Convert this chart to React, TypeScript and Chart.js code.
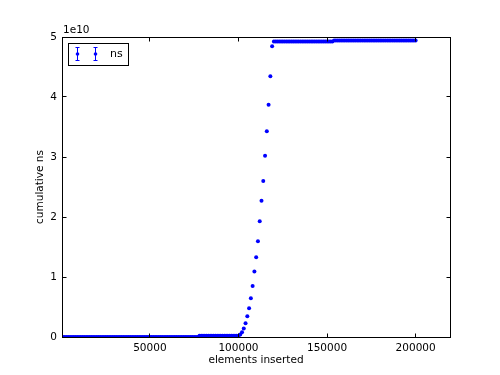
import React, { useEffect, useRef } from "react";
import { Chart, registerables } from "chart.js";

Chart.register(...registerables);

const SERIES_LABEL = "ns";
const X_TITLE = "elements inserted";
const Y_TITLE = "cumulative ns";
const Y_OFFSET_LABEL = "1e10";
const X_TICKS = [50000, 100000, 150000, 200000];
const Y_TICKS = [0, 1e10, 2e10, 3e10, 4e10, 5e10];

const elementsInserted = [
  1000, 2000, 3000, 4000, 5000, 6000, 7000, 8000, 9000, 10000,
  11000, 12000, 13000, 14000, 15000, 16000, 17000, 18000, 19000, 20000,
  21000, 22000, 23000, 24000, 25000, 26000, 27000, 28000, 29000, 30000,
  31000, 32000, 33000, 34000, 35000, 36000, 37000, 38000, 39000, 40000,
  41000, 42000, 43000, 44000, 45000, 46000, 47000, 48000, 49000, 50000,
  51000, 52000, 53000, 54000, 55000, 56000, 57000, 58000, 59000, 60000,
  61000, 62000, 63000, 64000, 65000, 66000, 67000, 68000, 69000, 70000,
  71000, 72000, 73000, 74000, 75000, 76000, 77000, 78000, 79000, 80000,
  81000, 82000, 83000, 84000, 85000, 86000, 87000, 88000, 89000, 90000,
  91000, 92000, 93000, 94000, 95000, 96000, 97000, 98000, 99000, 100000,
  101000, 102000, 103000, 104000, 105000, 106000, 107000, 108000, 109000, 110000,
  111000, 112000, 113000, 114000, 115000, 116000, 117000, 118000, 119000, 120000,
  121000, 122000, 123000, 124000, 125000, 126000, 127000, 128000, 129000, 130000,
  131000, 132000, 133000, 134000, 135000, 136000, 137000, 138000, 139000, 140000,
  141000, 142000, 143000, 144000, 145000, 146000, 147000, 148000, 149000, 150000,
  151000, 152000, 153000, 154000, 155000, 156000, 157000, 158000, 159000, 160000,
  161000, 162000, 163000, 164000, 165000, 166000, 167000, 168000, 169000, 170000,
  171000, 172000, 173000, 174000, 175000, 176000, 177000, 178000, 179000, 180000,
  181000, 182000, 183000, 184000, 185000, 186000, 187000, 188000, 189000, 190000,
  191000, 192000, 193000, 194000, 195000, 196000, 197000, 198000, 199000, 200000,
];

const cumulativeNs = [
  0, 0, 0, 0, 0, 0, 0, 0, 0, 0,
  0, 0, 0, 0, 0, 0, 0, 0, 0, 0,
  0, 0, 0, 0, 0, 0, 0, 0, 0, 0,
  0, 0, 0, 0, 0, 0, 0, 0, 0, 0,
  0, 0, 0, 0, 0, 0, 0, 0, 0, 0,
  0, 0, 0, 0, 0, 0, 0, 0, 0, 0,
  0, 0, 0, 0, 0, 0, 0, 0, 0, 0,
  0, 0, 0, 0, 0, 0, 0, 2e8, 2e8, 2e8,
  2e8, 2e8, 2e8, 2e8, 2e8, 2e8, 2e8, 2e8, 2e8, 2e8,
  2e8, 2e8, 2e8, 2e8, 2e8, 2e8, 2e8, 2e8, 2e8, 2e8,
  4e8, 8e8, 1.4e9, 2.3e9, 3.45e9, 4.8e9, 6.45e9, 8.5e9, 1.09e10, 1.33e10,
  1.595e10, 1.93e10, 2.27e10, 2.6e10, 3.02e10, 3.43e10, 3.87e10, 4.345e10, 4.845e10, 4.925e10,
  4.925e10, 4.925e10, 4.925e10, 4.925e10, 4.925e10, 4.925e10, 4.925e10, 4.925e10, 4.925e10, 4.925e10,
  4.925e10, 4.925e10, 4.925e10, 4.925e10, 4.925e10, 4.925e10, 4.925e10, 4.925e10, 4.925e10, 4.925e10,
  4.925e10, 4.925e10, 4.925e10, 4.925e10, 4.925e10, 4.925e10, 4.925e10, 4.925e10, 4.925e10, 4.925e10,
  4.925e10, 4.925e10, 4.925e10, 4.94e10, 4.94e10, 4.94e10, 4.94e10, 4.94e10, 4.94e10, 4.94e10,
  4.94e10, 4.94e10, 4.94e10, 4.94e10, 4.94e10, 4.94e10, 4.94e10, 4.94e10, 4.94e10, 4.94e10,
  4.94e10, 4.94e10, 4.94e10, 4.94e10, 4.94e10, 4.94e10, 4.94e10, 4.94e10, 4.94e10, 4.94e10,
  4.94e10, 4.94e10, 4.94e10, 4.94e10, 4.94e10, 4.94e10, 4.94e10, 4.94e10, 4.94e10, 4.94e10,
  4.94e10, 4.94e10, 4.94e10, 4.94e10, 4.94e10, 4.94e10, 4.94e10, 4.94e10, 4.94e10, 4.94e10,
];

const FONT = "'DejaVu Sans', sans-serif";
const FS = 10.5;
const BLUE = "#0000ff";

const framePlugin = {
  id: "mplFrame",
  afterDraw(chart: any) {
    const { ctx, chartArea: a, scales } = chart;
    const L = Math.floor(a.left) + 0.5;
    const R = Math.floor(a.right) + 0.5;
    const T = Math.floor(a.top) + 0.5;
    const B = Math.floor(a.bottom) + 0.5;
    ctx.save();
    ctx.strokeStyle = "#000";
    ctx.lineWidth = 1;
    ctx.strokeRect(L, T, R - L, B - T);
    const tl = 4;
    ctx.beginPath();
    X_TICKS.forEach((v) => {
      const px = Math.floor(scales.x.getPixelForValue(v)) + 0.5;
      ctx.moveTo(px, B);
      ctx.lineTo(px, B - tl);
      ctx.moveTo(px, T);
      ctx.lineTo(px, T + tl);
    });
    Y_TICKS.forEach((v) => {
      const py = Math.floor(scales.y.getPixelForValue(v)) + 0.5;
      ctx.moveTo(L, py);
      ctx.lineTo(L + tl, py);
      ctx.moveTo(R, py);
      ctx.lineTo(R - tl, py);
    });
    ctx.stroke();

    // offset label
    ctx.fillStyle = "#000";
    ctx.font = `${FS}px ${FONT}`;
    ctx.textAlign = "left";
    ctx.textBaseline = "alphabetic";
    ctx.fillText(Y_OFFSET_LABEL, a.left + 1, a.top - 4);

    // legend
    const bx = 68.5, by = 43.5, bw = 60, bh = 22;
    ctx.fillStyle = "#fff";
    ctx.fillRect(bx, by, bw, bh);
    ctx.strokeStyle = "#000";
    ctx.strokeRect(bx, by, bw, bh);
    const cy = 54;
    [77.5, 95.5].forEach((cx) => {
      ctx.strokeStyle = BLUE;
      ctx.lineWidth = 1;
      ctx.beginPath();
      ctx.moveTo(cx, cy - 6.5);
      ctx.lineTo(cx, cy + 6.5);
      ctx.moveTo(cx - 2, cy - 6.5);
      ctx.lineTo(cx + 2, cy - 6.5);
      ctx.moveTo(cx - 2, cy + 6.5);
      ctx.lineTo(cx + 2, cy + 6.5);
      ctx.stroke();
      ctx.fillStyle = BLUE;
      ctx.beginPath();
      ctx.arc(cx, cy, 1.8, 0, Math.PI * 2);
      ctx.fill();
    });
    ctx.fillStyle = "#000";
    ctx.font = `11px ${FONT}`;
    ctx.textBaseline = "middle";
    ctx.fillText(chart.data.datasets[0].label, 110, cy + 0.5);
    ctx.restore();
  },
};

export default function App() {
  const ref = useRef<HTMLCanvasElement | null>(null);

  useEffect(() => {
    if (!ref.current) return;
    const points = elementsInserted.map((x, i) => ({ x, y: cumulativeNs[i] }));
    const chart = new Chart(ref.current, {
      type: "scatter",
      data: {
        datasets: [
          {
            label: SERIES_LABEL,
            data: points,
            pointRadius: 2,
            pointBorderWidth: 0,
            pointBackgroundColor: BLUE,
            pointBorderColor: BLUE,
            showLine: false,
          },
        ],
      },
      options: {
        responsive: false,
        animation: false,
        events: [],
        layout: { padding: { left: 0, right: 50, top: 37, bottom: 0 } },
        plugins: {
          legend: { display: false },
          tooltip: { enabled: false },
        },
        scales: {
          x: {
            type: "linear",
            min: 400,
            max: 219400,
            grid: { display: false, drawTicks: false },
            border: { display: false },
            afterBuildTicks: (s: any) => {
              s.ticks = X_TICKS.map((value) => ({ value }));
            },
            afterFit: (s: any) => {
              s.height = 38;
            },
            ticks: {
              color: "#000",
              padding: 5,
              maxRotation: 0,
              autoSkip: false,
              font: { family: FONT, size: FS },
              callback: (v: any) => String(v),
            },
            title: {
              display: true,
              text: X_TITLE,
              color: "#000",
              font: { family: FONT, size: FS },
              padding: { top: 0, bottom: 8 },
            },
          },
          y: {
            type: "linear",
            min: 0,
            max: 5e10,
            grid: { display: false, drawTicks: false },
            border: { display: false },
            afterBuildTicks: (s: any) => {
              s.ticks = Y_TICKS.map((value) => ({ value }));
            },
            afterFit: (s: any) => {
              s.width = 62;
            },
            ticks: {
              color: "#000",
              padding: 5,
              autoSkip: false,
              font: { family: FONT, size: FS },
              callback: (v: any) => String(Number(v) / 1e10),
            },
            title: {
              display: true,
              text: Y_TITLE,
              color: "#000",
              font: { family: FONT, size: FS },
              padding: { top: 34, bottom: 0 },
            },
          },
        },
      },
      plugins: [framePlugin],
    });
    return () => chart.destroy();
  }, []);

  return (
    <div style={{ position: "fixed", left: 0, top: 0, width: 500, height: 375, background: "#fff" }}>
      <canvas ref={ref} width={500} height={375} style={{ width: 500, height: 375, display: "block" }} />
    </div>
  );
}
